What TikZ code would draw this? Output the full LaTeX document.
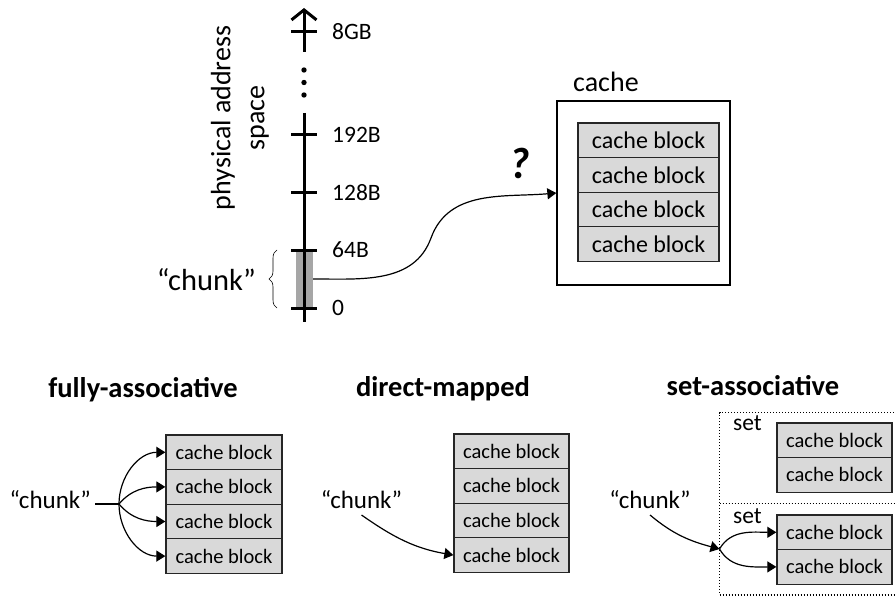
\documentclass[tikz,border=0pt]{standalone}
\usepackage{fontspec}
\setmainfont{Carlito}
\usetikzlibrary{arrows.meta,decorations.pathreplacing}
\definecolor{blockfill}{HTML}{D9D9D9}
\definecolor{barfill}{HTML}{A6A6A6}
\newcommand\fsz[2]{\fontsize{#1}{#2}\selectfont}
\tikzset{
  axisline/.style={line width=3pt},
  conn/.style={line width=1.2pt, -{Triangle[length=9pt,width=11pt]}},
  plainline/.style={line width=1.2pt},
  blk/.style={draw=black!85, line width=1.3pt, fill=blockfill, inner sep=0pt,
    minimum height=34.6pt},
  bigblk/.style={blk, minimum width=141pt, font=\fsz{24}{28}},
  smallblk/.style={blk, minimum width=116pt, font=\fsz{20.5}{24}},
  setline/.style={line width=1.4pt, dash pattern=on 1pt off 2pt},
  ticklabel/.style={anchor=west, inner sep=0pt, font=\fsz{23.5}{28}},
  bigtext/.style={font=\fsz{28}{34}},
  chunktext/.style={font=\fsz{25}{30}, anchor=base, inner sep=0pt},
  title/.style={anchor=base, font=\fsz{28.5}{34}\bfseries},
}
\begin{document}
\begin{tikzpicture}[x=1pt,y=1pt]
\clip (0,0) rectangle (896,598);

% ---------- physical address space ----------
\node[fill=barfill, inner sep=0pt, minimum width=17pt, minimum height=58pt] (bar) at (304.5,319) {};
\coordinate (atop) at (304,590);
\coordinate (abreak) at (304,546);
\coordinate (aresume) at (304,485);
\coordinate (abot) at (304,276);
\draw[axisline, -{Straight Barb[length=10pt,width=25pt]}] (abreak) -- (atop);
\draw[axisline] (aresume) -- (abot);
\foreach \y in {528,515.5,503} \fill (304,\y) circle (2.7pt);
\foreach \y/\t in {566/8GB, 463/192B, 405/128B, 348/64B, 290/0} {
  \draw[axisline] (291,\y) -- (317,\y);
  \node[ticklabel] (tick-\t) at (332,\y) {\t};
}
\node[bigtext, rotate=90, align=center] (pas) at (240,480) {physical address\\space};
\draw[decorate, decoration={brace, amplitude=8pt}, line width=0.6pt] (277,290) -- (277,348);
\node[font=\fsz{30.5}{37}, anchor=base east, inner sep=0pt] (chunk0) at (256,308) {“chunk”};

% ---------- cache ----------
\node[draw, line width=1.3pt, inner sep=0pt, minimum width=173pt, minimum height=184pt] (cache) at (643.5,405) {};
\node[bigtext, anchor=base west, inner sep=0pt] (cachelbl) at (573,506) {cache};
\foreach \i in {1,...,4}
  \node[bigblk] (cb\i) at (648.5,{475-17.3-(\i-1)*34.6}) {cache block};
\coordinate (bend) at (431,360);
\draw[conn] (bar.east) to[out=0,in=250] (bend) to[out=70,in=185] (cache.west);
\node[font=\fsz{44}{52}\bfseries\itshape] (q) at (520,435) {?};

% ---------- fully-associative ----------
\node[title] (fa) at (143,201) {fully-associative};
\foreach \i in {1,...,4}
  \node[smallblk] (fb\i) at (224,{163-17.3-(\i-1)*34.6}) {cache block};
\node[chunktext, anchor=base east] (ch1) at (91,90) {“chunk”};
\coordinate (linestart) at (95,94);
\coordinate (fork) at (119,94);
\draw[plainline] (linestart) -- (fork);
\foreach \i/\o in {1/90, 2/50, 3/-50, 4/-90}
  \draw[conn] (fork) to[out=\o,in=180] (fb\i.west);

% ---------- direct-mapped ----------
\node[title] (dm) at (443,202) {direct-mapped};
\foreach \i in {1,...,4}
  \node[smallblk, minimum width=115pt] (db\i) at (511.5,{164-17.3-(\i-1)*34.6}) {cache block};
\node[chunktext] (ch2) at (361.5,90) {“chunk”};
\draw[conn] ([yshift=-7pt]ch2.base) to[out=-35,in=170] (db4.west);

% ---------- set-associative ----------
\node[title] (sa) at (753,203) {set-associative};
% two stacked sets, open on the right
\node[inner sep=0pt, anchor=north west, minimum width=186pt, minimum height=91pt] (set1) at (719.5,185.5) {};
\node[inner sep=0pt, anchor=north west, minimum width=186pt, minimum height=91pt] (set2) at (719.5,94.5) {};
\draw[setline] (set1.north east) -- (set1.north west) -- (set2.south west) -- (set2.south east);
\draw[setline] (set2.north west) -- (set2.north east);
\node[font=\fsz{23.5}{28}, anchor=base west, inner sep=0pt] (setlbl1) at (733,168) {set};
\node[font=\fsz{23.5}{28}, anchor=base west, inner sep=0pt] (setlbl2) at (733,75) {set};
\node[smallblk, minimum width=115pt] (sb1) at (834.5,157.7) {cache block};
\node[smallblk, minimum width=115pt] (sb2) at (834.5,123.1) {cache block};
\node[smallblk, minimum width=115pt] (sb3) at (834.5,65.7) {cache block};
\node[smallblk, minimum width=115pt] (sb4) at (834.5,31.1) {cache block};
\node[chunktext] (ch3) at (650,90) {“chunk”};
\coordinate (join) at (719.5,49);
\draw[conn] ([yshift=-7pt]ch3.base) to[out=-40,in=165] (join);
\draw[conn] (join) to[out=60,in=180] (sb3.west);
\draw[conn] (join) to[out=-60,in=180] (sb4.west);
\end{tikzpicture}
\end{document}
